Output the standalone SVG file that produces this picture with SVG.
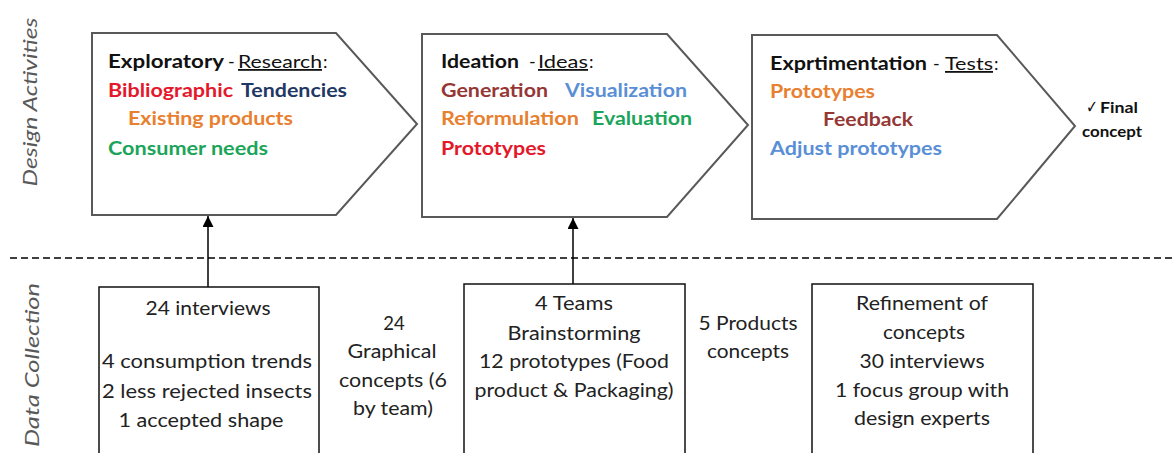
<svg xmlns="http://www.w3.org/2000/svg" width="1173" height="453" viewBox="0 0 1173 453">
<style>
  text { font-family: Lato, "Liberation Sans", sans-serif; }
  .b { font-weight: bold; font-size: 18px; }
  .h { font-weight: bold; font-size: 18px; fill: #111; }
  .hr { font-size: 18px; fill: #111; }
  .u { text-decoration: underline; }
  .body { font-size: 18.5px; fill: #222; text-anchor: middle; }
  .side { font-size: 19px; font-style: italic; fill: #595959; text-anchor: middle; }
  .pent { fill: #fff; stroke: #595959; stroke-width: 2; }
  .box { fill: #fff; stroke: #111; stroke-width: 1.5; }
  .red { fill: #e3192b; }
  .navy { fill: #1f3864; }
  .orange { fill: #e8802f; }
  .green { fill: #1ba55a; }
  .dred { fill: #953735; }
  .blue { fill: #5a8fd6; }
  .conn { stroke: #000; stroke-width: 1.5; fill: none; }
</style>
<defs>
  <marker id="ah" viewBox="0 0 10 10" refX="10" refY="5" markerUnits="userSpaceOnUse" markerWidth="14" markerHeight="11" orient="auto">
    <path d="M0,0 L10,5 L0,10 Z" fill="#000"/>
  </marker>
</defs>
<rect width="1173" height="453" fill="#fff"/>

<g id="lane-labels">
  <text class="side" transform="translate(37,102) rotate(-90)" textLength="169" lengthAdjust="spacingAndGlyphs">Design Activities</text>
  <text class="side" transform="translate(39,365) rotate(-90)" textLength="164" lengthAdjust="spacingAndGlyphs">Data Collection</text>
</g>

<g id="connectors">
  <line x1="10" y1="258" x2="1173" y2="258" stroke="#000" stroke-width="1.5" stroke-dasharray="7 4"/>
  <line class="conn" x1="208" y1="287" x2="208" y2="216" marker-end="url(#ah)"/>
  <line class="conn" x1="573" y1="284" x2="573" y2="218" marker-end="url(#ah)"/>
  <line class="conn" x1="902" y1="219" x2="902" y2="170" marker-end="url(#ah)"/>
</g>

<g id="exploratory">
  <path class="pent" d="M92,33 L336,33 L417,124 L336,215 L92,215 Z"/>
  <text class="h" x="108" y="68" textLength="116" lengthAdjust="spacingAndGlyphs">Exploratory</text>
  <text class="hr" x="228" y="68">-</text>
  <text class="hr u" x="238" y="68" textLength="84" lengthAdjust="spacingAndGlyphs">Research</text>
  <text class="hr" x="323" y="68">:</text>
  <text class="b red" x="108" y="97" textLength="125" lengthAdjust="spacingAndGlyphs">Bibliographic</text>
  <text class="b navy" x="241" y="97" textLength="106" lengthAdjust="spacingAndGlyphs">Tendencies</text>
  <text class="b orange" x="128" y="125" textLength="165" lengthAdjust="spacingAndGlyphs">Existing products</text>
  <text class="b green" x="108" y="155" textLength="160" lengthAdjust="spacingAndGlyphs">Consumer needs</text>
</g>

<g id="ideation">
  <path class="pent" d="M422,34 L667,34 L748,125 L667,217 L422,217 Z"/>
  <text class="h" x="441" y="68" textLength="78" lengthAdjust="spacingAndGlyphs">Ideation</text>
  <text class="hr" x="529" y="68">-</text>
  <text class="hr u" x="538" y="68" textLength="50" lengthAdjust="spacingAndGlyphs">Ideas</text>
  <text class="hr" x="589" y="68">:</text>
  <text class="b dred" x="441" y="97" textLength="107" lengthAdjust="spacingAndGlyphs">Generation</text>
  <text class="b blue" x="565" y="97" textLength="122" lengthAdjust="spacingAndGlyphs">Visualization</text>
  <text class="b orange" x="441" y="125" textLength="138" lengthAdjust="spacingAndGlyphs">Reformulation</text>
  <text class="b green" x="592" y="125" textLength="100" lengthAdjust="spacingAndGlyphs">Evaluation</text>
  <text class="b red" x="441" y="155" textLength="105" lengthAdjust="spacingAndGlyphs">Prototypes</text>
</g>

<g id="experimentation">
  <path class="pent" d="M752,35 L997,35 L1075,126 L997,219 L752,219 Z"/>
  <text class="h" x="770" y="70" textLength="157" lengthAdjust="spacingAndGlyphs">Exprtimentation</text>
  <text class="hr" x="933" y="70">-</text>
  <text class="hr u" x="945" y="70" textLength="48" lengthAdjust="spacingAndGlyphs">Tests</text>
  <text class="hr" x="994" y="70">:</text>
  <text class="b orange" x="770" y="98" textLength="105" lengthAdjust="spacingAndGlyphs">Prototypes</text>
  <text class="b dred" x="823" y="126" textLength="90" lengthAdjust="spacingAndGlyphs">Feedback</text>
  <text class="b blue" x="770" y="155" textLength="172" lengthAdjust="spacingAndGlyphs">Adjust prototypes</text>
</g>

<g id="final-concept">
  <text x="1086" y="113" font-size="18" fill="#111" font-family="'DejaVu Sans', sans-serif" textLength="12" lengthAdjust="spacingAndGlyphs">✓</text>
  <text x="1100" y="113" font-size="15" font-weight="bold" fill="#111" textLength="38" lengthAdjust="spacingAndGlyphs">Final</text>
  <text x="1082" y="137" font-size="15" font-weight="bold" fill="#111" textLength="60" lengthAdjust="spacingAndGlyphs">concept</text>
</g>

<g id="data-interviews">
  <rect class="box" x="99" y="287" width="220" height="180"/>
  <text class="body" x="208" y="315" textLength="125" lengthAdjust="spacingAndGlyphs">24 interviews</text>
  <text class="body" x="207" y="368" textLength="210" lengthAdjust="spacingAndGlyphs">4 consumption trends</text>
  <text class="body" x="207" y="398" textLength="210" lengthAdjust="spacingAndGlyphs">2 less rejected insects</text>
  <text class="body" x="201" y="427" textLength="165" lengthAdjust="spacingAndGlyphs">1 accepted shape</text>
</g>

<g id="graphical-concepts">
  <text class="body" x="394" y="330">24</text>
  <text class="body" x="392" y="358" textLength="89" lengthAdjust="spacingAndGlyphs">Graphical</text>
  <text class="body" x="393" y="387" textLength="108" lengthAdjust="spacingAndGlyphs">concepts (6</text>
  <text class="body" x="393" y="415" textLength="80" lengthAdjust="spacingAndGlyphs">by team)</text>
</g>

<g id="data-teams">
  <rect class="box" x="464" y="284" width="221" height="183"/>
  <text class="body" x="574" y="310" textLength="78" lengthAdjust="spacingAndGlyphs">4 Teams</text>
  <text class="body" x="574" y="340" textLength="133" lengthAdjust="spacingAndGlyphs">Brainstorming</text>
  <text class="body" x="574" y="368" textLength="190" lengthAdjust="spacingAndGlyphs">12 prototypes (Food</text>
  <text class="body" x="574" y="397" textLength="199" lengthAdjust="spacingAndGlyphs">product &amp; Packaging)</text>
</g>

<g id="products-concepts">
  <text class="body" x="748" y="330" textLength="99" lengthAdjust="spacingAndGlyphs">5 Products</text>
  <text class="body" x="748" y="358" textLength="82" lengthAdjust="spacingAndGlyphs">concepts</text>
</g>

<g id="data-refinement">
  <rect class="box" x="812" y="284" width="221" height="183"/>
  <text class="body" x="922" y="310" textLength="132" lengthAdjust="spacingAndGlyphs">Refinement of</text>
  <text class="body" x="924" y="339" textLength="82" lengthAdjust="spacingAndGlyphs">concepts</text>
  <text class="body" x="922" y="368" textLength="125" lengthAdjust="spacingAndGlyphs">30 interviews</text>
  <text class="body" x="922" y="397" textLength="174" lengthAdjust="spacingAndGlyphs">1 focus group with</text>
  <text class="body" x="922" y="425" textLength="136" lengthAdjust="spacingAndGlyphs">design experts</text>
</g>
</svg>
